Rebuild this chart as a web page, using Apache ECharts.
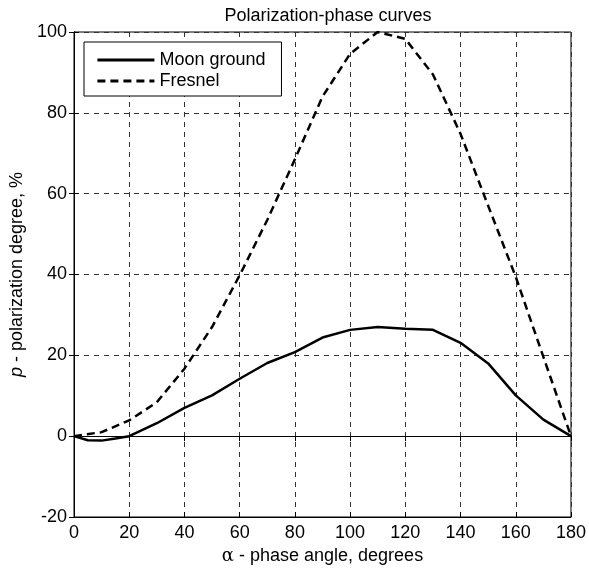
<!DOCTYPE html>
<html>
<head>
<meta charset="utf-8">
<script src="https://cdn.jsdelivr.net/npm/echarts@6/dist/echarts.min.js"></script>
<style>html,body{margin:0;padding:0;background:#fff}#c{width:589px;height:576px}</style>
</head>
<body>
<div id="c"></div>
<script>
var angles = [0, 5, 10, 15, 20, 30, 40, 50, 60, 70, 80, 90, 100, 110, 120, 130, 140, 150, 160, 170, 180];
var moonGround = [0, -1.0, -1.1, -0.6, 0, 3.2, 7, 10.1, 14.2, 18.1, 20.8, 24.4, 26.3, 27, 26.6, 26.3, 23.1, 18, 10.1, 4.1, 0];
var fresnelAngles = [0, 10, 20, 30, 40, 50, 60, 70, 80, 90, 100, 110, 120, 130, 140, 150, 160, 170, 180];
var fresnel = [0, 1.0, 3.9, 8.4, 16.7, 27, 39.8, 53.5, 68.5, 84, 94.6, 100, 98.3, 89.5, 74.8, 57, 39.4, 19.6, 0];
var xTicks = [0, 20, 40, 60, 80, 100, 120, 140, 160, 180];
var yTicks = [-20, 0, 20, 40, 60, 80, 100];

var chart = echarts.init(document.getElementById('c'), null, {renderer: 'canvas'});
var font = 'Liberation Sans, Arial, sans-serif';
var gridLine = {show: true, lineStyle: {color: '#333', width: 1, type: [5, 5]}};
function pairs(xs, ys) { return xs.map(function (x, i) { return [x, ys[i]]; }); }

chart.setOption({
  animation: false,
  backgroundColor: '#fff',
  title: {
    text: 'Polarization-phase curves',
    left: 323, top: 2, textAlign: 'center',
    textStyle: {fontFamily: font, fontSize: 18, fontWeight: 'normal', color: '#000'}
  },
  legend: {
    left: 84, top: 42, orient: 'vertical',
    padding: [9, 16, 6, 12],
    itemGap: 3,
    itemWidth: 57, itemHeight: 18,
    borderColor: '#000', borderWidth: 1, backgroundColor: '#fff', borderRadius: 0,
    textStyle: {fontFamily: font, fontSize: 18, color: '#000'},
    itemStyle: {color: 'transparent', borderWidth: 0, opacity: 0},
    lineStyle: {width: 2.8},
    data: ['Moon ground', 'Fresnel']
  },
  grid: {left: 74, right: 17, top: 32, bottom: 59, show: true, borderColor: '#000', borderWidth: 1, backgroundColor: 'transparent'},
  xAxis: [{
    type: 'value', min: 0, max: 180, interval: 20,
    position: 'bottom',
    name: '{a|α} - phase angle, degrees',
    nameLocation: 'middle', nameGap: 25,
    nameTextStyle: {fontFamily: font, fontSize: 18, color: '#000',
      rich: {a: {fontFamily: 'DejaVu Serif, serif', fontSize: 18, color: '#000'}}},
    axisLine: {show: true, onZero: false, lineStyle: {color: '#000', width: 1}},
    axisTick: {show: true, inside: true, length: 5, lineStyle: {color: '#000'}},
    axisLabel: {fontFamily: font, fontSize: 18, color: '#000', margin: 7},
    splitLine: gridLine
  }, {
    type: 'value', min: 0, max: 180, interval: 20, position: 'top',
    axisLine: {show: true, lineStyle: {color: '#000', width: 1}},
    axisTick: {show: true, inside: true, length: 5, lineStyle: {color: '#000'}},
    axisLabel: {show: false}, splitLine: {show: false}
  }],
  yAxis: [{
    type: 'value', min: -20, max: 100, interval: 20,
    position: 'left',
    name: '{p|p} - polarization degree, %',
    nameLocation: 'middle', nameGap: 43,
    nameTextStyle: {fontFamily: font, fontSize: 18, color: '#000',
      rich: {p: {fontFamily: font, fontStyle: 'italic', fontSize: 18, color: '#000'}}},
    axisLine: {show: true, onZero: false, lineStyle: {color: '#000', width: 1}},
    axisTick: {show: true, inside: true, length: 5, lineStyle: {color: '#000'}},
    axisLabel: {fontFamily: font, fontSize: 18, color: '#000', margin: 7},
    splitLine: gridLine
  }, {
    type: 'value', min: -20, max: 100, interval: 20, position: 'right',
    axisLine: {show: true, lineStyle: {color: '#000', width: 1}},
    axisTick: {show: true, inside: true, length: 5, lineStyle: {color: '#000'}},
    axisLabel: {show: false}, splitLine: {show: false}
  }],
  series: [{
    name: 'Moon ground', type: 'line', data: pairs(angles, moonGround),
    showSymbol: false, symbol: 'none',
    lineStyle: {color: '#000', width: 2.5, type: 'solid'},
    itemStyle: {color: '#000'},
    markLine: {
      silent: true, symbol: 'none', label: {show: false},
      lineStyle: {color: '#000', width: 1, type: 'solid'},
      data: [{yAxis: 0}]
    },
    z: 3
  }, {
    name: 'Fresnel', type: 'line', data: pairs(fresnelAngles, fresnel),
    showSymbol: false, symbol: 'none',
    lineStyle: {color: '#000', width: 2.5, type: [8, 5]},
    itemStyle: {color: '#000'},
    z: 3
  }]
});
</script>
</body>
</html>
